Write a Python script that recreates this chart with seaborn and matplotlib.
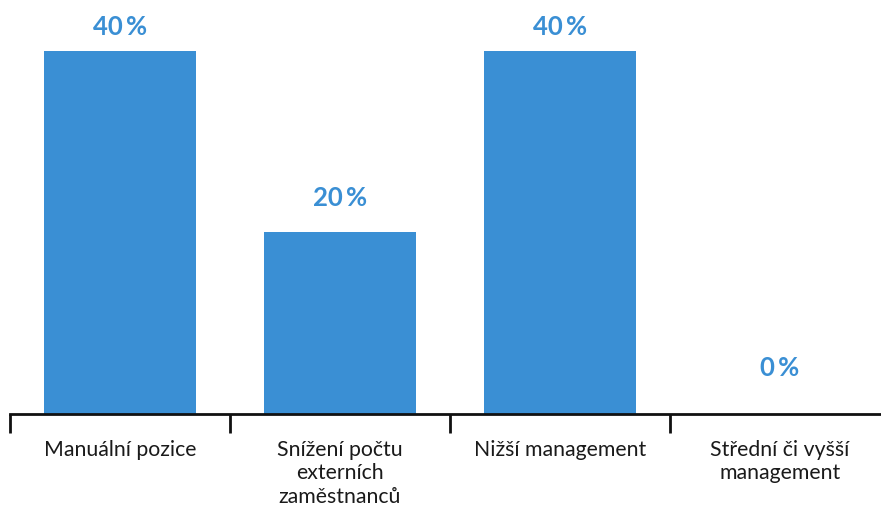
import pandas as pd
import seaborn as sns
import matplotlib.pyplot as plt
import numpy as np

# 1. Data
categories = ["Manuální pozice", "Snížení počtu\nexterních\nzaměstnanců",
              "Nižší management", "Střední či vyšší\nmanagement"]
values = [40, 20, 40, 0]
value_labels = ["40\u2009%", "20\u2009%", "40\u2009%", "0\u2009%"]

df = pd.DataFrame({"category": categories, "value": values})

# 2. Style
sns.set_style("white")
plt.rcParams["font.family"] = ["Lato", "DejaVu Sans"]
bar_color = "#3a8fd4"

# 3. Plot
fig = plt.figure(figsize=(8.81, 5.09), dpi=100)
ax = fig.add_axes([10 / 881, (509 - 413.5) / 509, 880 / 881, 363 / 509])
sns.barplot(data=df, x="category", y="value", color=bar_color, width=0.69,
            saturation=1, linewidth=0, ax=ax)

ax.set_xlim(-0.5, 3.5)
ax.set_ylim(0, 40)
for s in ["top", "right", "left"]:
    ax.spines[s].set_visible(False)
ax.spines["bottom"].set_linewidth(2)
ax.spines["bottom"].set_color("#111111")
ax.set_yticks([])
ax.set_xlabel("")
ax.set_ylabel("")

# category boundaries as ticks, labels at centres without ticks
ax.set_xticks(np.arange(len(categories)))
ax.set_xticklabels(categories, fontsize=15.3, color="#1a1a1a", linespacing=1.22)
ax.tick_params(axis="x", which="major", length=0, pad=19)
ax.set_xticks(np.arange(len(categories) + 1) - 0.5, minor=True)
ax.tick_params(axis="x", which="minor", bottom=True, length=14, width=2,
               color="#111111")

# value labels
for i, (v, lab) in enumerate(zip(values, value_labels)):
    offset = 45 - 0.53 * v
    ax.annotate(lab, (i, v), xytext=(0, offset), textcoords="offset pixels",
                ha="center", va="center", fontsize=18.5, fontweight="bold",
                color=bar_color, annotation_clip=False)

fig.savefig("out.png", dpi=100)
